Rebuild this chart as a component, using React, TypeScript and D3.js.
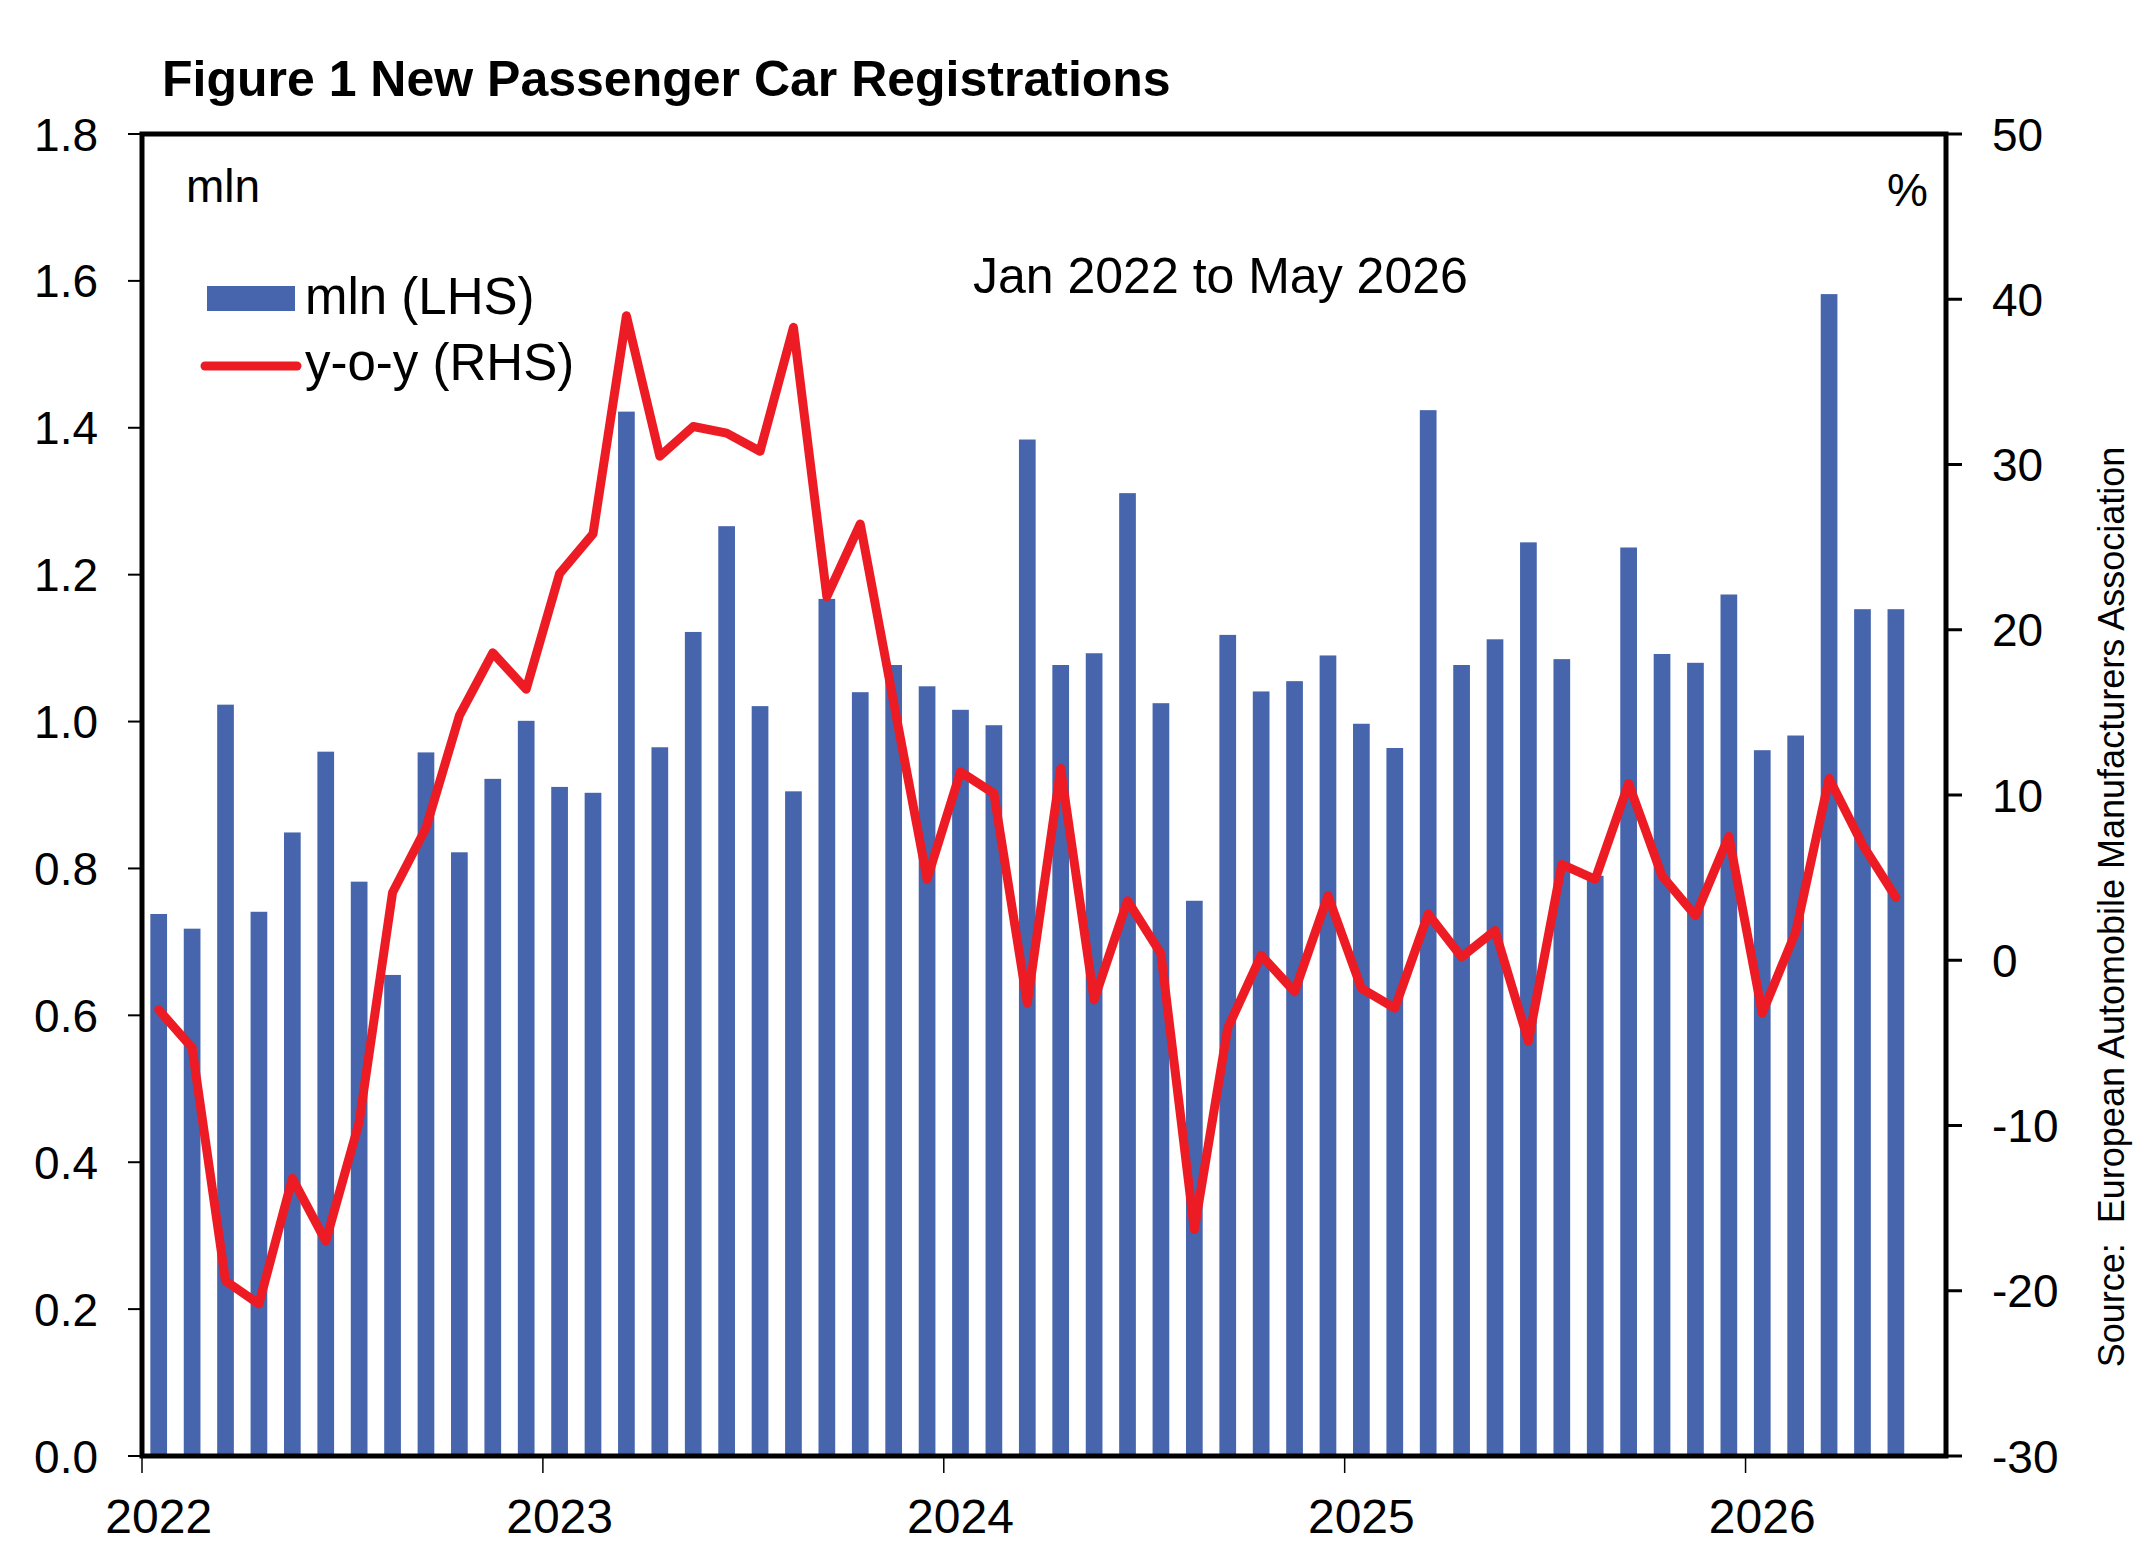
import * as d3 from 'd3'

// Jan 2022 .. May 2026, one bar per month
const months = d3.timeMonths(new Date(2022, 0, 1), new Date(2026, 5, 1))

const registrations = [
  0.738, 0.718, 1.023, 0.741, 0.849, 0.959, 0.782, 0.655, 0.958, 0.822, 0.922, 1.001,
  0.911, 0.903, 1.422, 0.965, 1.122, 1.266, 1.021, 0.905, 1.167, 1.04, 1.077, 1.048,
  1.016, 0.995, 1.384, 1.077, 1.093, 1.311, 1.025, 0.756, 1.118, 1.041, 1.055, 1.09,
  0.997, 0.964, 1.424, 1.077, 1.112, 1.244, 1.085, 0.79, 1.237, 1.092, 1.08, 1.173,
  0.961, 0.981, 1.582, 1.153, 1.153,
]

const yoy = [
  -3.0, -5.3, -19.4, -20.8, -13.2, -17.0, -9.8, 4.1, 8.0, 14.8, 18.6, 16.4,
  23.4, 25.8, 39.0, 30.5, 32.3, 31.9, 30.8, 38.3, 22.0, 26.4, 15.6, 4.9,
  11.4, 10.1, -2.6, 11.6, -2.4, 3.6, 0.4, -16.3, -4.1, 0.3, -1.9, 3.9,
  -1.7, -2.9, 2.8, 0.2, 1.8, -4.9, 5.8, 4.9, 10.7, 5.1, 2.7, 7.5,
  -3.2, 1.7, 11.0, 7.0, 3.8,
]

const leftTicks = [0, 0.2, 0.4, 0.6, 0.8, 1.0, 1.2, 1.4, 1.6, 1.8]
const rightTicks = [-30, -20, -10, 0, 10, 20, 30, 40, 50]
const yearLabels = ['2022', '2023', '2024', '2025', '2026']

const BLUE = '#4665ad'
const RED = '#ed1c24'
const FONT = '"Liberation Sans", Arial, sans-serif'

export default function App() {
  const width = 2152
  const height = 1554
  const left = 142
  const right = 1946
  const top = 134
  const bottom = 1456

  // 54 month slots on the axis (Jan 2022 .. Jun 2026)
  const x = d3.scaleLinear([0, 54], [left, right])
  const yL = d3.scaleLinear([0, 1.8], [bottom, top])
  const yR = d3.scaleLinear([-30, 50], [bottom, top])
  const barW = x(0.5) - x(0)

  const line = d3
    .line<number>()
    .x((_, i) => x(i + 0.5))
    .y((d) => yR(d))

  return (
    <svg
      width={width}
      height={height}
      style={{ position: 'absolute', left: 0, top: 0, display: 'block', background: '#fff' }}
      fontFamily={FONT}
    >
      <text x={162} y={96} fontSize={50} fontWeight="bold">
        Figure 1 New Passenger Car Registrations
      </text>

      {months.map((m, i) => (
        <rect
          key={+m}
          x={x(i + 0.25)}
          y={yL(registrations[i])}
          width={barW}
          height={yL(0) - yL(registrations[i])}
          fill={BLUE}
        />
      ))}

      {/* left ticks */}
      {leftTicks.map((t) => (
        <g key={t}>
          <line x1={left - 14} x2={left} y1={yL(t)} y2={yL(t)} stroke="#000" strokeWidth={2} />
          <text x={98} y={yL(t)} dy="0.36em" fontSize={46} textAnchor="end">
            {t.toFixed(1)}
          </text>
        </g>
      ))}

      {/* right ticks */}
      {rightTicks.map((t) => (
        <g key={t}>
          <line x1={right} x2={right + 16} y1={yR(t)} y2={yR(t)} stroke="#000" strokeWidth={3} />
          <text x={1992} y={yR(t)} dy="0.36em" fontSize={46}>
            {t}
          </text>
        </g>
      ))}

      {/* year ticks */}
      {yearLabels.map((yr, k) => (
        <g key={yr}>
          <line
            x1={x(k * 12)}
            x2={x(k * 12)}
            y1={bottom}
            y2={bottom + 17}
            stroke="#000"
            strokeWidth={1.5}
          />
          <text x={x(k * 12 + 0.5)} y={1533} fontSize={48} textAnchor="middle">
            {yr}
          </text>
        </g>
      ))}

      <rect
        x={left}
        y={top}
        width={right - left}
        height={bottom - top}
        fill="none"
        stroke="#000"
        strokeWidth={5}
      />

      <path
        d={line(yoy) || undefined}
        fill="none"
        stroke={RED}
        strokeWidth={9}
        strokeLinejoin="round"
        strokeLinecap="round"
      />

      <text x={186} y={202} fontSize={46}>
        mln
      </text>
      <text x={1928} y={206} fontSize={46} textAnchor="end">
        %
      </text>
      <text x={973} y={293} fontSize={50}>
        Jan 2022 to May 2026
      </text>

      {/* legend */}
      <rect x={207} y={286} width={88} height={25} fill={BLUE} />
      <text x={305} y={314} fontSize={51}>
        mln (LHS)
      </text>
      <line x1={205} x2={297} y1={366} y2={366} stroke={RED} strokeWidth={9} strokeLinecap="round" />
      <text x={305} y={380} fontSize={51}>
        y-o-y (RHS)
      </text>

      <text
        transform="translate(2124,907) rotate(-90)"
        fontSize={36}
        textAnchor="middle"
        style={{ whiteSpace: 'pre' }}
      >
        {'Source:  European Automobile Manufacturers Association'}
      </text>
    </svg>
  )
}
